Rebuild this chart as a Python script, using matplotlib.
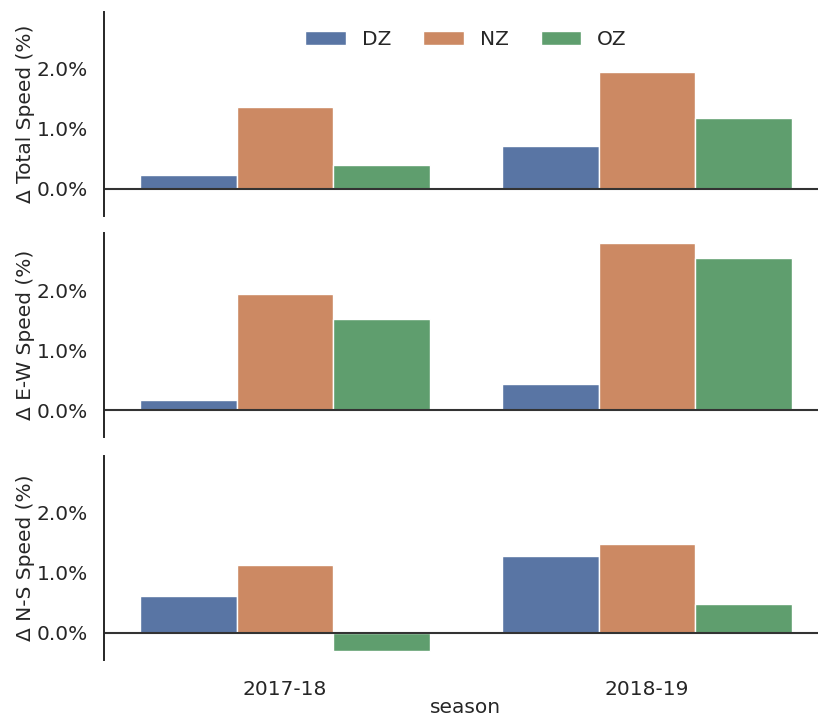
import matplotlib.pyplot as plt
import seaborn as sns
from matplotlib.ticker import PercentFormatter

sns.set_style("white")
plt.rcParams["font.family"] = ["DejaVu Sans"]
plt.rcParams["font.size"] = 14.5

seasons = ["2017-18", "2018-19"]
zones = ["DZ", "NZ", "OZ"]

# values in percent, per zone, per season
total_speed = {"DZ": [0.24, 0.72], "NZ": [1.36, 1.95], "OZ": [0.40, 1.18]}
ew_speed = {"DZ": [0.17, 0.44], "NZ": [1.93, 2.79], "OZ": [1.51, 2.54]}
ns_speed = {"DZ": [0.62, 1.29], "NZ": [1.14, 1.48], "OZ": [-0.30, 0.49]}

panels = [
    ("\u0394 Total Speed (%)", total_speed),
    ("\u0394 E-W Speed (%)", ew_speed),
    ("\u0394 N-S Speed (%)", ns_speed),
]

colors = [sns.desaturate(c, 0.75) for c in sns.color_palette("deep", 3)]

fig = plt.figure(figsize=(8.18, 7.15), dpi=100)
left, width = 104 / 818, 724 / 818
tops = [12, 233, 456]
h = 204

width_bar = 0.8 / len(zones)
for i, (ylabel, data) in enumerate(panels):
    ax = fig.add_axes([left, 1 - (tops[i] + h) / 715, width, h / 715])
    for j, z in enumerate(zones):
        xs = [k - 0.4 + width_bar * (j + 0.5) for k in range(len(seasons))]
        ax.bar(xs, data[z], width=width_bar, color=colors[j], edgecolor="white",
               linewidth=1, label=z)
    ax.axhline(0, color=".2", lw=1.5)
    ax.set_xlim(-0.5, 1.5)
    ax.set_ylim(-0.45, 2.95)
    ax.set_yticks([0, 1, 2])
    ax.yaxis.set_major_formatter(PercentFormatter(xmax=100, decimals=1))
    ax.tick_params(axis="y", pad=8, colors=".15")
    ax.set_ylabel(ylabel, color=".15", labelpad=1)
    ax.spines[["top", "right", "bottom"]].set_visible(False)
    ax.spines["left"].set_color(".15")
    ax.spines["left"].set_linewidth(1.4)
    if i < 2:
        ax.set_xticks([])
    else:
        ax.set_xticks(range(len(seasons)))
        ax.set_xticklabels(seasons, color=".15")
        ax.tick_params(axis="x", pad=11)
        ax.set_xlabel("season", color=".15", labelpad=-1)
    if i == 0:
        ax.legend(loc="upper center", ncol=3, frameon=False,
                  bbox_to_anchor=(0.5, 1.0), columnspacing=1.6)

fig.savefig("out.png", dpi=100)
